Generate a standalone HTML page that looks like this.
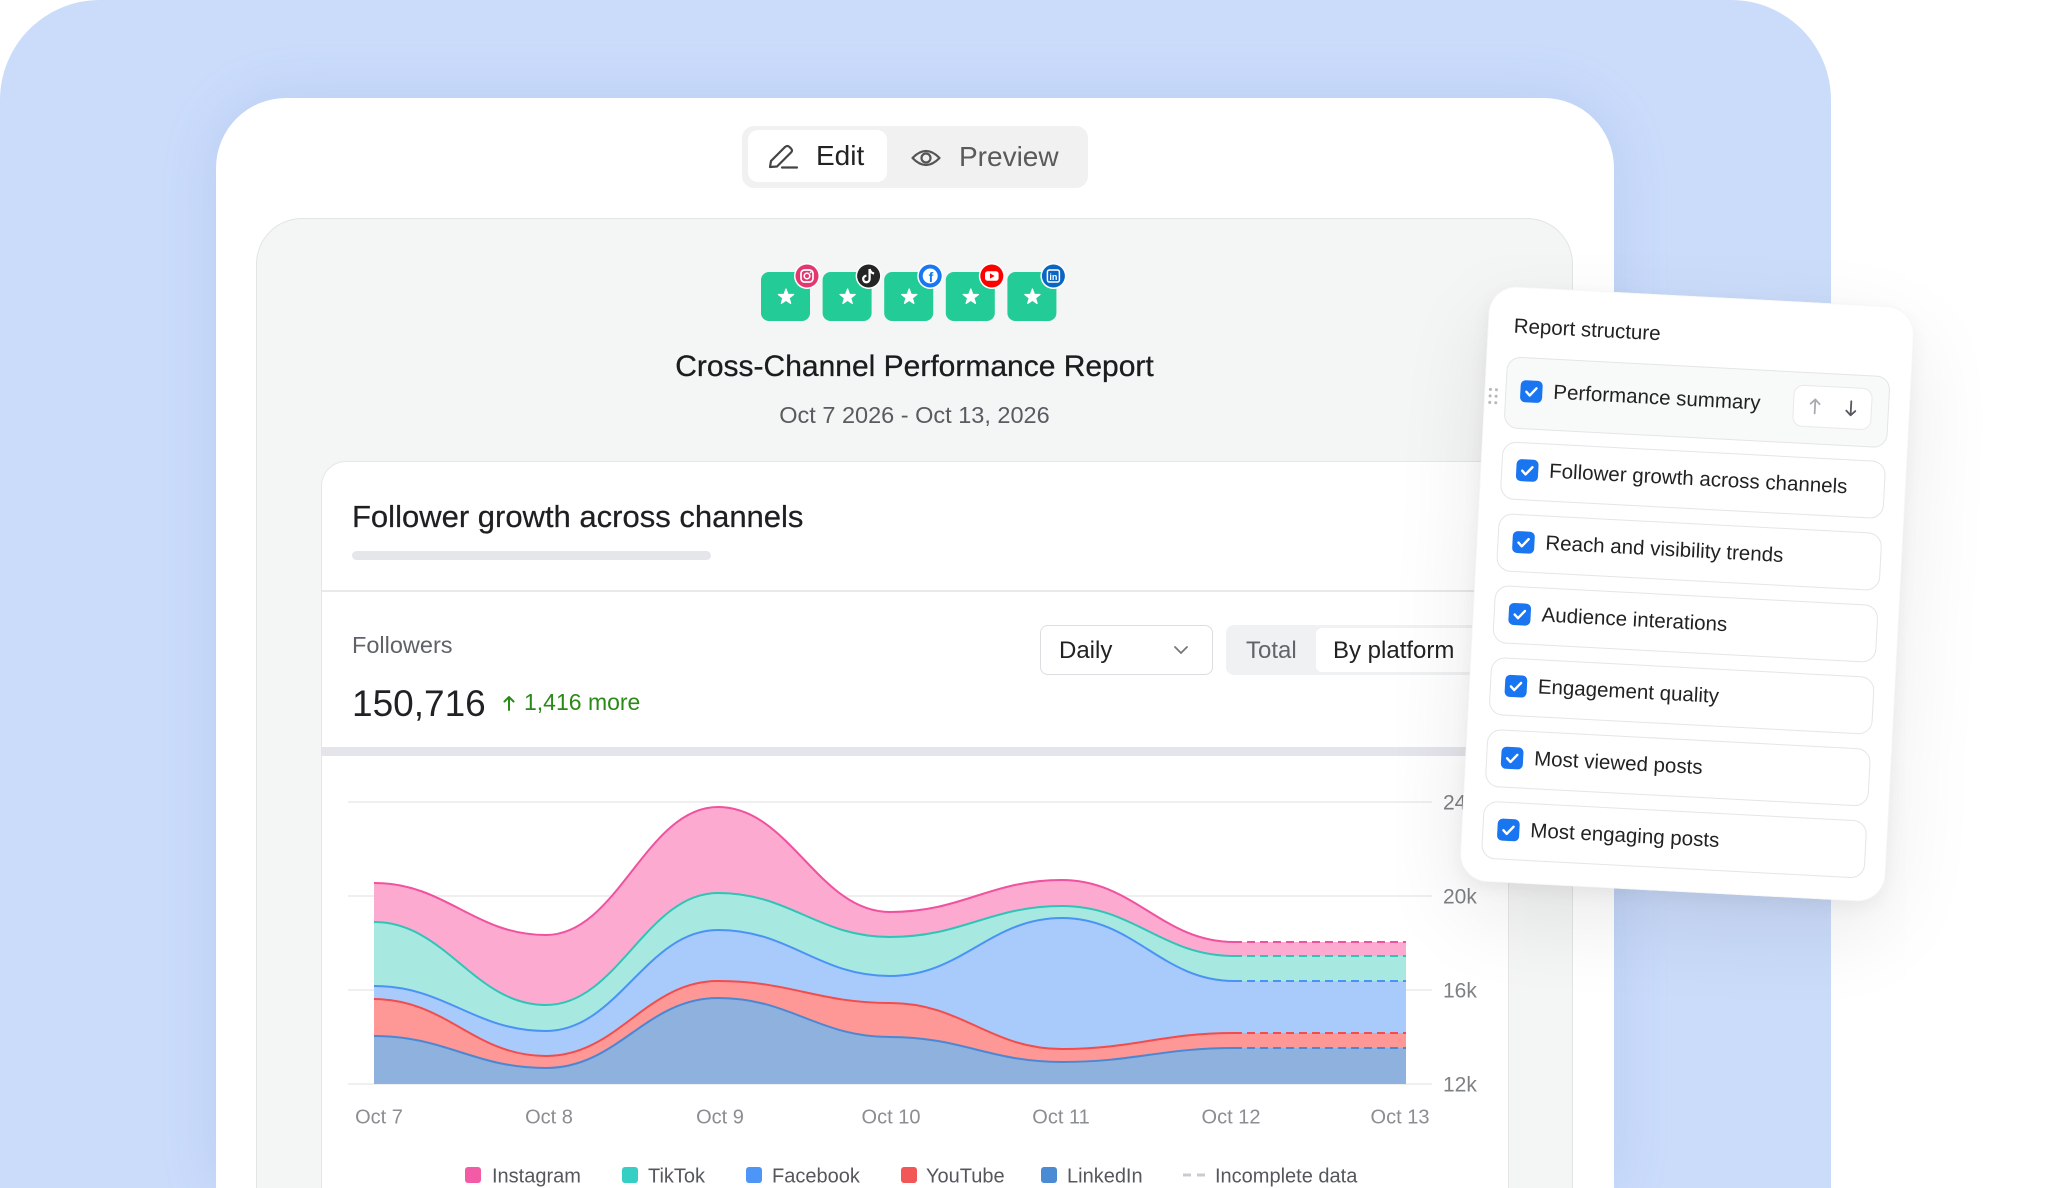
<!DOCTYPE html>
<html><head><meta charset="utf-8">
<style>
*{margin:0;padding:0;box-sizing:border-box}
html,body{width:2050px;height:1188px;overflow:hidden;background:#fff;font-family:"Liberation Sans",sans-serif}
.abs{position:absolute}
.t{position:absolute;white-space:nowrap;line-height:1}
.row{position:absolute;left:20px;width:384px;height:58px;border:1.5px solid #e3e5e7;border-radius:14px;background:#fff}
.cb{position:absolute;width:22px;height:22px;border-radius:5px;background:#1a75f1}
.rt{position:absolute;left:68px;white-space:nowrap;line-height:1;font-size:20.5px;color:#222}
</style></head><body>
<div class="abs" style="left:0;top:0;width:2050px;height:1188px;overflow:hidden">
 <div class="abs" style="left:0;top:0;width:1831px;height:1188px;border-radius:100px 100px 0 0;background:#cbdcfb"></div>
 <div class="abs" style="left:216px;top:98px;width:1398px;height:1090px;border-radius:70px 70px 0 0;background:#fff;box-shadow:0 0 60px rgba(70,110,190,0.14)"></div>

 <!-- segmented control -->
 <div class="abs" style="left:742px;top:126px;width:346px;height:62px;border-radius:12px;background:#f1f1f2"></div>
 <div class="abs" style="left:748px;top:130px;width:139px;height:52px;border-radius:10px;background:#fff"></div>
 <svg class="abs" style="left:766px;top:142px" width="34" height="30" viewBox="0 0 34 30">
  <path d="M4 25 L5 19 L19 5 Q21.5 3 23.5 5 L25 6.5 Q27 8.5 25 10.5 L11 24.5 Z" fill="none" stroke="#444" stroke-width="2.2" stroke-linejoin="round"/>
  <path d="M16 25.5 H31" stroke="#444" stroke-width="2.2" stroke-linecap="round"/>
 </svg>
 <div class="t" style="left:816px;top:142.3px;font-size:28px;color:#222">Edit</div>
 <svg class="abs" style="left:910px;top:145px" width="32" height="26" viewBox="0 0 32 26">
  <path d="M2.5 13 Q16 -1 29.5 13 Q16 27 2.5 13 Z" fill="none" stroke="#555" stroke-width="2.2" stroke-linejoin="round"/>
  <circle cx="16" cy="13" r="4.5" fill="none" stroke="#555" stroke-width="2.2"/>
 </svg>
 <div class="t" style="left:959px;top:143px;font-size:28px;color:#5a5a5a">Preview</div>

 <!-- gray panel -->
 <div class="abs" style="left:256px;top:218px;width:1317px;height:970px;border-radius:46px 46px 0 0;background:#f4f5f5;border:1.5px solid #e2e4e5;border-bottom:none"></div>

 <!-- platform icons -->
 <svg class="abs" style="left:0;top:0" width="2050" height="460" viewBox="0 0 2050 460">
  <defs>
   <path id="star" d="M0,-8 L1.94,-2.67 L7.61,-2.47 L3.14,1.02 L4.70,6.47 L0,3.3 L-4.70,6.47 L-3.14,1.02 L-7.61,-2.47 L-1.94,-2.67 Z" fill="#fff" stroke="#fff" stroke-width="1.2" stroke-linejoin="round"/>
  </defs>
  <g>
   <rect x="761" y="272" width="49" height="49" rx="8" fill="#23cb96"/>
   <rect x="822.6" y="272" width="49" height="49" rx="8" fill="#23cb96"/>
   <rect x="884.2" y="272" width="49" height="49" rx="8" fill="#23cb96"/>
   <rect x="945.8" y="272" width="49" height="49" rx="8" fill="#23cb96"/>
   <rect x="1007.4" y="272" width="49" height="49" rx="8" fill="#23cb96"/>
   <use href="#star" x="786" y="297"/>
   <use href="#star" x="847.6" y="297"/>
   <use href="#star" x="909.2" y="297"/>
   <use href="#star" x="970.8" y="297"/>
   <use href="#star" x="1032.4" y="297"/>
  </g>
  <g transform="translate(807,276)">
   <circle r="13" fill="#fff"/><circle r="11.5" fill="#e4366f"/>
   <rect x="-6" y="-6" width="12" height="12" rx="3.5" fill="none" stroke="#fff" stroke-width="1.7"/>
   <circle r="2.8" fill="none" stroke="#fff" stroke-width="1.6"/>
   <circle cx="3.6" cy="-3.6" r="0.9" fill="#fff"/>
  </g>
  <g transform="translate(868.6,276)">
   <circle r="13" fill="#fff"/><circle r="11.5" fill="#252525"/>
   <path d="M1 -7 V3 A3.2 3.2 0 1 1 -2.2 -0.2" fill="none" stroke="#fff" stroke-width="2.3"/>
   <path d="M1 -7 Q2 -3 5.5 -2.5" fill="none" stroke="#fff" stroke-width="2.2"/>
  </g>
  <g transform="translate(930.2,276)">
   <circle r="13" fill="#fff"/><circle r="11.5" fill="#1877f2"/>
   <circle r="7.5" fill="#fff"/>
   <text x="0.8" y="6" text-anchor="middle" font-family="Liberation Sans" font-weight="bold" font-size="14" fill="#1877f2">f</text>
  </g>
  <g transform="translate(991.8,276)">
   <circle r="13" fill="#fff"/><circle r="11.5" fill="#ff0000"/>
   <rect x="-6.8" y="-4.8" width="13.6" height="9.6" rx="2.6" fill="#fff"/>
   <path d="M-1.8 -2.6 L2.8 0 L-1.8 2.6 Z" fill="#ff0000"/>
  </g>
  <g transform="translate(1053.4,276)">
   <circle r="13" fill="#fff"/><circle r="11.5" fill="#0a66c2"/>
   <rect x="-6" y="-6" width="12" height="12" rx="2" fill="none" stroke="#fff" stroke-width="1.5"/>
   <text x="0" y="4" text-anchor="middle" font-family="Liberation Sans" font-weight="bold" font-size="9" fill="#fff">in</text>
  </g>
 </svg>

 <div class="t" style="left:0;width:1829px;text-align:center;top:351.6px;font-size:30px;color:#1b1c1e;-webkit-text-stroke:0.3px #1b1c1e">Cross-Channel Performance Report</div>
 <div class="t" style="left:0;width:1829px;text-align:center;top:404.1px;font-size:23.5px;color:#575c61">Oct 7 2026 - Oct 13, 2026</div>

 <!-- chart card -->
 <div class="abs" style="left:321px;top:461px;width:1188px;height:727px;border-radius:25px 25px 0 0;background:#fff;border:1.5px solid #e4e6e8;border-bottom:none"></div>
 <div class="t" style="left:352px;top:500.8px;font-size:31px;color:#1f1f21;-webkit-text-stroke:0.25px #1f1f21">Follower growth across channels</div>
 <div class="abs" style="left:352px;top:551px;width:359px;height:9px;border-radius:5px;background:#e5e6ea"></div>
 <div class="abs" style="left:322px;top:590px;width:1186px;height:1.5px;background:#e8e9eb"></div>
 <div class="t" style="left:352px;top:634.1px;font-size:23.5px;color:#5f6368">Followers</div>
 <div class="t" style="left:352px;top:684.7px;font-size:37px;color:#1f2124">150,716</div>
 <svg class="abs" style="left:502px;top:694px" width="14" height="17" viewBox="0 0 14 17">
  <path d="M7 16 V3 M2.5 7.5 L7 3 L11.5 7.5" fill="none" stroke="#2b8a17" stroke-width="2" stroke-linecap="round" stroke-linejoin="round"/>
 </svg>
 <div class="t" style="left:524px;top:690.5px;font-size:23px;color:#2b8a17">1,416 more</div>

 <!-- Daily dropdown -->
 <div class="abs" style="left:1040px;top:625px;width:173px;height:50px;border-radius:8px;border:1.5px solid #dcdde0;background:#fff"></div>
 <div class="t" style="left:1059px;top:638.7px;font-size:24px;color:#222">Daily</div>
 <svg class="abs" style="left:1172px;top:644px" width="18" height="12" viewBox="0 0 18 12">
  <path d="M3 3 L9 9 L15 3" fill="none" stroke="#777" stroke-width="1.8" stroke-linecap="round" stroke-linejoin="round"/>
 </svg>
 <!-- Total / By platform -->
 <div class="abs" style="left:1226px;top:625px;width:260px;height:50px;border-radius:8px;background:#f0f1f2"></div>
 <div class="t" style="left:1246px;top:638.7px;font-size:24px;color:#60656a">Total</div>
 <div class="abs" style="left:1316px;top:628px;width:165px;height:44px;border-radius:6px;background:#fff"></div>
 <div class="t" style="left:1333px;top:638.7px;font-size:24px;color:#222">By platform</div>

 <div class="abs" style="left:322px;top:747px;width:1186px;height:9px;background:#e4e5ea"></div>

 <!-- chart -->
 <svg class="abs" style="left:0;top:0" width="2050" height="1188" viewBox="0 0 2050 1188">
  <g stroke="#efefef" stroke-width="2">
   <line x1="348" y1="802" x2="1432" y2="802"/>
   <line x1="348" y1="896" x2="1432" y2="896"/>
   <line x1="348" y1="990" x2="1432" y2="990"/>
   <line x1="348" y1="1084" x2="1432" y2="1084"/>
  </g>
  <g font-family="Liberation Sans" font-size="21" fill="#7d8085">
   <text x="1443" y="809.5">24k</text>
   <text x="1443" y="903.5">20k</text>
   <text x="1443" y="997.5">16k</text>
   <text x="1443" y="1091.5">12k</text>
  </g>
  <path fill="#fdaad1" d="M374 883 C446 883 474 935 546 935 C618 935 646 807 718 807 C790 807 818 912 890 912 C962 912 990 880 1062 880 C1134 880 1162 942 1234 942 L1406 942 L1406 1084 L374 1084 Z"/>
  <path fill="#a7e8e1" d="M374 922 C446 922 474 1005 546 1005 C618 1005 646 893 718 893 C790 893 818 937 890 937 C962 937 990 906 1062 906 C1134 906 1162 956 1234 956 L1406 956 L1406 1084 L374 1084 Z"/>
  <path fill="#a9cbfc" d="M374 986 C446 986 474 1031 546 1031 C618 1031 646 930 718 930 C790 930 818 976 890 976 C962 976 990 918 1062 918 C1134 918 1162 981 1234 981 L1406 981 L1406 1084 L374 1084 Z"/>
  <path fill="#fe9896" d="M374 999 C446 999 474 1056 546 1056 C618 1056 646 981 718 981 C790 981 818 1003 890 1003 C962 1003 990 1049 1062 1049 C1134 1049 1162 1033 1234 1033 L1406 1033 L1406 1084 L374 1084 Z"/>
  <path fill="#8eb1de" d="M374 1036 C446 1036 474 1068 546 1068 C618 1068 646 998 718 998 C790 998 818 1037 890 1037 C962 1037 990 1062 1062 1062 C1134 1062 1162 1048 1234 1048 L1406 1048 L1406 1084 L374 1084 Z"/>
  <g fill="none" stroke-width="2">
   <path stroke="#f0529f" d="M374 883 C446 883 474 935 546 935 C618 935 646 807 718 807 C790 807 818 912 890 912 C962 912 990 880 1062 880 C1134 880 1162 942 1234 942"/>
   <path stroke="#2fc4b7" d="M374 922 C446 922 474 1005 546 1005 C618 1005 646 893 718 893 C790 893 818 937 890 937 C962 937 990 906 1062 906 C1134 906 1162 956 1234 956"/>
   <path stroke="#4a92f6" d="M374 986 C446 986 474 1031 546 1031 C618 1031 646 930 718 930 C790 930 818 976 890 976 C962 976 990 918 1062 918 C1134 918 1162 981 1234 981"/>
   <path stroke="#f24c4c" d="M374 999 C446 999 474 1056 546 1056 C618 1056 646 981 718 981 C790 981 818 1003 890 1003 C962 1003 990 1049 1062 1049 C1134 1049 1162 1033 1234 1033"/>
   <path stroke="#4c87d2" d="M374 1036 C446 1036 474 1068 546 1068 C618 1068 646 998 718 998 C790 998 818 1037 890 1037 C962 1037 990 1062 1062 1062 C1134 1062 1162 1048 1234 1048"/>
  </g>
  <g fill="none" stroke-width="2" stroke-dasharray="8 5">
   <path stroke="#f0529f" d="M1234 942 H1406"/>
   <path stroke="#2fc4b7" d="M1234 956 H1406"/>
   <path stroke="#4a92f6" d="M1234 981 H1406"/>
   <path stroke="#f24c4c" d="M1234 1033 H1406"/>
   <path stroke="#4c87d2" d="M1234 1048 H1406"/>
  </g>
  <g font-family="Liberation Sans" font-size="20" fill="#8a8d91" text-anchor="middle">
   <text x="379" y="1123.5">Oct 7</text>
   <text x="549" y="1123.5">Oct 8</text>
   <text x="720" y="1123.5">Oct 9</text>
   <text x="891" y="1123.5">Oct 10</text>
   <text x="1061" y="1123.5">Oct 11</text>
   <text x="1231" y="1123.5">Oct 12</text>
   <text x="1400" y="1123.5">Oct 13</text>
  </g>
  <rect x="465" y="1167" width="16" height="16" rx="3" fill="#f45ba6"/>
  <rect x="622" y="1167" width="16" height="16" rx="3" fill="#35cfc4"/>
  <rect x="746" y="1167" width="16" height="16" rx="3" fill="#4d96f7"/>
  <rect x="901" y="1167" width="16" height="16" rx="3" fill="#f25656"/>
  <rect x="1041" y="1167" width="16" height="16" rx="3" fill="#4a8bd4"/>
  <path d="M1183 1175 H1205" stroke="#c8ccd0" stroke-width="3" stroke-dasharray="8 6"/>
  <g font-family="Liberation Sans" font-size="20" fill="#54585d">
   <text x="492" y="1182.5">Instagram</text>
   <text x="648" y="1182.5">TikTok</text>
   <text x="772" y="1182.5">Facebook</text>
   <text x="926" y="1182.5">YouTube</text>
   <text x="1067" y="1182.5">LinkedIn</text>
   <text x="1215" y="1182.5">Incomplete data</text>
  </g>
 </svg>

 <!-- Report structure panel -->
 <div class="abs" style="left:1474px;top:296px;width:426px;height:596px;border-radius:28px;background:#fff;transform:rotate(3deg);transform-origin:50% 50%;box-shadow:0 30px 90px rgba(0,0,0,0.09),0 6px 18px rgba(0,0,0,0.05);border:1px solid rgba(0,0,0,0.03)">
  <div class="t" style="left:25px;top:29px;font-size:20.5px;color:#222">Report structure</div>
  <svg class="abs" style="left:0;top:98px" width="16" height="22" viewBox="0 0 16 22">
   <g fill="#b8b8b8"><circle cx="5" cy="5" r="1.5"/><circle cx="11" cy="5" r="1.5"/><circle cx="5" cy="11.5" r="1.5"/><circle cx="11" cy="11.5" r="1.5"/><circle cx="5" cy="18" r="1.5"/><circle cx="11" cy="18" r="1.5"/></g>
  </svg>
  <div class="row" style="top:69px;height:72px;background:#f8f9f9"></div>
  <div class="cb" style="left:35px;top:92px"><svg width="22" height="22" viewBox="0 0 22 22"><polyline points="6,11.5 9.5,15 16,7.5" fill="none" stroke="#fff" stroke-width="2.4" stroke-linecap="round" stroke-linejoin="round"/></svg></div>
  <div class="rt" style="top:92.5px">Performance summary</div>
  <div class="abs" style="left:308px;top:82px;width:79px;height:42px;border-radius:10px;background:#fff;border:1.5px solid #e8e9ea"></div>
  <svg class="abs" style="left:318px;top:92px" width="60" height="22" viewBox="0 0 60 22">
   <path d="M12 18 V4 M7.5 8.5 L12 4 L16.5 8.5" fill="none" stroke="#a9abae" stroke-width="1.8" stroke-linecap="round" stroke-linejoin="round"/>
   <path d="M48 4 V18 M43.5 13.5 L48 18 L52.5 13.5" fill="none" stroke="#55585c" stroke-width="1.8" stroke-linecap="round" stroke-linejoin="round"/>
  </svg>

  <div class="row" style="top:154px"></div>
  <div class="cb" style="left:35px;top:171px"><svg width="22" height="22" viewBox="0 0 22 22"><polyline points="6,11.5 9.5,15 16,7.5" fill="none" stroke="#fff" stroke-width="2.4" stroke-linecap="round" stroke-linejoin="round"/></svg></div>
  <div class="rt" style="top:171.5px">Follower growth across channels</div>

  <div class="row" style="top:226px"></div>
  <div class="cb" style="left:35px;top:243px"><svg width="22" height="22" viewBox="0 0 22 22"><polyline points="6,11.5 9.5,15 16,7.5" fill="none" stroke="#fff" stroke-width="2.4" stroke-linecap="round" stroke-linejoin="round"/></svg></div>
  <div class="rt" style="top:243.5px">Reach and visibility trends</div>

  <div class="row" style="top:298px"></div>
  <div class="cb" style="left:35px;top:315px"><svg width="22" height="22" viewBox="0 0 22 22"><polyline points="6,11.5 9.5,15 16,7.5" fill="none" stroke="#fff" stroke-width="2.4" stroke-linecap="round" stroke-linejoin="round"/></svg></div>
  <div class="rt" style="top:315.5px">Audience interations</div>

  <div class="row" style="top:370px"></div>
  <div class="cb" style="left:35px;top:387px"><svg width="22" height="22" viewBox="0 0 22 22"><polyline points="6,11.5 9.5,15 16,7.5" fill="none" stroke="#fff" stroke-width="2.4" stroke-linecap="round" stroke-linejoin="round"/></svg></div>
  <div class="rt" style="top:387.5px">Engagement quality</div>

  <div class="row" style="top:442px"></div>
  <div class="cb" style="left:35px;top:459px"><svg width="22" height="22" viewBox="0 0 22 22"><polyline points="6,11.5 9.5,15 16,7.5" fill="none" stroke="#fff" stroke-width="2.4" stroke-linecap="round" stroke-linejoin="round"/></svg></div>
  <div class="rt" style="top:459.5px">Most viewed posts</div>

  <div class="row" style="top:514px"></div>
  <div class="cb" style="left:35px;top:531px"><svg width="22" height="22" viewBox="0 0 22 22"><polyline points="6,11.5 9.5,15 16,7.5" fill="none" stroke="#fff" stroke-width="2.4" stroke-linecap="round" stroke-linejoin="round"/></svg></div>
  <div class="rt" style="top:531.5px">Most engaging posts</div>
 </div>
</div>
</body></html>
